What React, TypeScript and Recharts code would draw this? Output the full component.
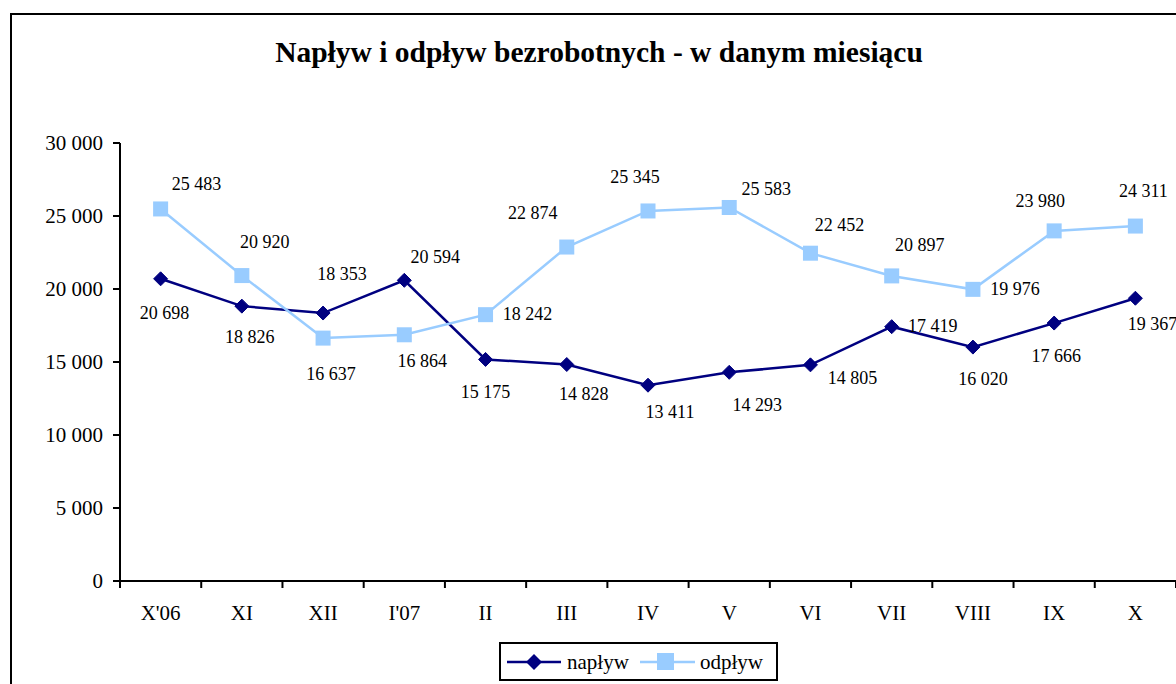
import React from 'react';
import { LineChart, Line, XAxis, YAxis } from 'recharts';

const categories = ["X'06", 'XI', 'XII', "I'07", 'II', 'III', 'IV', 'V', 'VI', 'VII', 'VIII', 'IX', 'X'];
const naplyw = [20698, 18826, 18353, 20594, 15175, 14828, 13411, 14293, 14805, 17419, 16020, 17666, 19367];
const odplyw = [25483, 20920, 16637, 16864, 18242, 22874, 25345, 25583, 22452, 20897, 19976, 23980, 24311];
const yTicks = [0, 5000, 10000, 15000, 20000, 25000, 30000];

// label offsets (dx, dy) relative to each point
const offN = [[4, 34], [8, 31], [19, -39], [31, -24], [0, 32], [17, 29], [22, 27], [28, 32], [42, 13], [41, -1], [10, 32], [2, 33], [17, 25]];
const offO = [[36, -25], [23, -34], [8, 36], [18, 26], [42, -1], [-34, -34], [-13, -34], [37, -19], [29, -29], [28, -31], [42, -1], [-14, -30], [8, -35]];

const data = categories.map((c, i) => ({ cat: c, naplyw: naplyw[i], odplyw: odplyw[i] }));

const FONT = '"Liberation Serif", "Times New Roman", serif';
const NAVY = '#000080';
const LIGHT = '#99CCFF';

const fmt = (v: number) => {
  const s = String(Math.round(v));
  return s.replace(/\B(?=(\d{3})+(?!\d))/g, ' ');
};

const NDot = (props: any) => {
  const { cx, cy, index } = props;
  if (cx == null || cy == null) return <g key={`n${index}`} />;
  const r = 7;
  const [dx, dy] = offN[index];
  return (
    <g key={`n${index}`}>
      <polygon points={`${cx},${cy - r} ${cx + r},${cy} ${cx},${cy + r} ${cx - r},${cy}`} fill={NAVY} stroke={NAVY} />
      <text x={cx + dx} y={cy + dy} dy="0.35em" textAnchor="middle" fontFamily={FONT} fontSize={18} fill="#000">
        {fmt(naplyw[index])}
      </text>
    </g>
  );
};

const ODot = (props: any) => {
  const { cx, cy, index } = props;
  if (cx == null || cy == null) return <g key={`o${index}`} />;
  const s = 15;
  const [dx, dy] = offO[index];
  return (
    <g key={`o${index}`}>
      <rect x={cx - s / 2} y={cy - s / 2} width={s} height={s} fill={LIGHT} />
      <text x={cx + dx} y={cy + dy} dy="0.35em" textAnchor="middle" fontFamily={FONT} fontSize={18} fill="#000">
        {fmt(odplyw[index])}
      </text>
    </g>
  );
};

const XTick = (props: any) => {
  const { x, y, payload, index, width } = props;
  let half = payload && typeof payload.offset === 'number' && payload.offset > 0 ? payload.offset : 0;
  if (!half && width) half = width / (categories.length * 2);
  const axisY = y - 24;
  const isLast = index === categories.length - 1;
  return (
    <g>
      <line x1={x - half} y1={axisY} x2={x - half} y2={axisY + 7} stroke="#000" strokeWidth={2} />
      {isLast && <line x1={x + half} y1={axisY} x2={x + half} y2={axisY + 7} stroke="#000" strokeWidth={2} />}
      <text x={x} y={y} dy="0.71em" textAnchor="middle" fontFamily={FONT} fontSize={21} fill="#000">
        {payload.value}
      </text>
    </g>
  );
};

export default function App() {
  return (
    <div style={{ position: 'absolute', left: 0, top: 0, width: 1176, height: 684, overflow: 'hidden', background: '#fff' }}>
      <div style={{ position: 'absolute', left: 10, top: 13, width: 1300, height: 800, border: '2px solid #000', boxSizing: 'border-box' }} />
      <svg style={{ position: 'absolute', left: 0, top: 0 }} width={1176} height={100}>
        <text x={599} y={62} textAnchor="middle" fontFamily={FONT} fontWeight="bold" fontSize={29.5} fill="#000">
          Napływ i odpływ bezrobotnych - w danym miesiącu
        </text>
      </svg>
      <div style={{ position: 'absolute', left: 0, top: 0 }}>
        <LineChart width={1176} height={684} data={data} margin={{ top: 143, right: 0, bottom: 43, left: 60 }}>
          <XAxis
            dataKey="cat"
            scale="band"
            height={60}
            tickLine={false}
            tickSize={6}
            tickMargin={18}
            axisLine={{ stroke: '#000', strokeWidth: 2 }}
            tick={<XTick />}
            interval={0}
          />
          <YAxis
            domain={[0, 30000]}
            ticks={yTicks}
            width={60}
            tickFormatter={fmt}
            tickSize={7}
            tickMargin={10}
            axisLine={{ stroke: '#000', strokeWidth: 2 }}
            tickLine={{ stroke: '#000', strokeWidth: 2 }}
            tick={{ fontFamily: FONT, fontSize: 21, fill: '#000' }}
            interval={0}
          />
          <Line dataKey="naplyw" stroke={NAVY} strokeWidth={2.5} dot={NDot} activeDot={false} isAnimationActive={false} />
          <Line dataKey="odplyw" stroke={LIGHT} strokeWidth={2.5} dot={ODot} activeDot={false} isAnimationActive={false} />
        </LineChart>
      </div>
      <svg style={{ position: 'absolute', left: 499, top: 642 }} width={280} height={40}>
        <rect x={1} y={1} width={277} height={37} fill="#fff" stroke="#000" strokeWidth={2} />
        <line x1={8} y1={20} x2={62} y2={20} stroke={NAVY} strokeWidth={2.5} />
        <polygon points="35,12 43,20 35,28 27,20" fill={NAVY} />
        <text x={68} y={20} dy="0.32em" fontFamily={FONT} fontSize={21} fill="#000">napływ</text>
        <line x1={141} y1={20} x2={196} y2={20} stroke={LIGHT} strokeWidth={2.5} />
        <rect x={158} y={11} width={17} height={17} fill={LIGHT} />
        <text x={201} y={20} dy="0.32em" fontFamily={FONT} fontSize={21} fill="#000">odpływ</text>
      </svg>
    </div>
  );
}
